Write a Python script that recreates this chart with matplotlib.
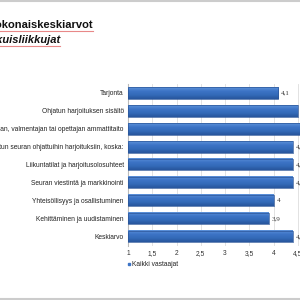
import numpy as np
import matplotlib
matplotlib.use("Agg")
import matplotlib.pyplot as plt
from matplotlib.lines import Line2D
from matplotlib.colors import LinearSegmentedColormap

categories = [
    "Tarjonta",
    "Ohjatun harjoituksen sisältö",
    "Ohjaajan, valmentajan tai opettajan ammattitaito",
    "Osallistun seuran ohjattuihin harjoituksiin, koska:",
    "Liikuntatilat ja harjoitusolosuhteet",
    "Seuran viestintä ja markkinointi",
    "Yhteisöllisyys ja osallistuminen",
    "Kehittäminen ja uudistaminen",
    "Keskiarvo",
]
values = [4.1, 4.5, 4.6, 4.4, 4.4, 4.4, 4.0, 3.9, 4.4]
ticks = [1, 1.5, 2, 2.5, 3, 3.5, 4, 4.5, 5]
tick_labels = ["1", "1,5", "2", "2,5", "3", "3,5", "4", "4,5", "5"]
title1 = "Kokonaiskeskiarvot"
title2 = "Aikuisliikkujat"
legend_label = "Kaikki vastaajat"

sans = ["Liberation Sans", "DejaVu Sans"]
serif = ["Liberation Serif", "DejaVu Serif"]

fig = plt.figure(figsize=(3, 3), dpi=100)
W = H = 300.0
ax = fig.add_axes([128 / W, 54.5 / H, 194 / W, 161.5 / H])

n = len(categories)
ypos = np.arange(n)
bar_h = 0.64
xmin = 1.0

cmap = LinearSegmentedColormap.from_list(
    "bar", ["#5d92da", "#3d74c6", "#336ab8", "#27559c"])
grad = np.linspace(0, 1, 64).reshape(-1, 1)

for y, v in zip(ypos, values):
    ax.imshow(grad, cmap=cmap, aspect="auto", origin="upper",
              extent=[xmin, v, y + bar_h / 2, y - bar_h / 2], zorder=3)
    ax.barh(y, v - xmin, left=xmin, height=bar_h, facecolor="none",
            edgecolor="#2c5699", linewidth=0.5, zorder=4)
    ax.text(v + 0.06, y, f"{v:.1f}".replace(".", ",").replace(",0", ""),
            ha="left", va="center", fontsize=5, family=serif,
            color="#333333", zorder=5)

ax.set_xlim(1, 5)
ax.set_ylim(n - 0.5, -0.5)
ax.set_xticks(ticks)
ax.set_xticklabels(tick_labels, fontsize=4.8, family=sans, color="#333333")
ax.set_yticks(ypos)
ax.set_yticklabels(categories, fontsize=4.8, family=sans, color="#222222")
ax.tick_params(axis="both", length=0, pad=3)
ax.grid(axis="x", color="#dddddd", linewidth=0.6, zorder=0)
for s in ["top", "right", "bottom"]:
    ax.spines[s].set_visible(False)
ax.spines["left"].set_color("#bbbbbb")
ax.spines["left"].set_linewidth(0.8)
ax.set_axisbelow(True)

# Titles
fig.text(93 / W, 1 - 25 / H, title1, ha="right", va="center",
         fontsize=8, fontweight="bold", family=sans, color="#111111")
fig.text(60 / W, 1 - 40 / H, title2, ha="right", va="center",
         fontsize=8, fontweight="bold", style="italic", family=sans,
         color="#111111")
fig.add_artist(Line2D([0, 93 / W], [1 - 31 / H] * 2, color="#e88888",
                      linewidth=0.8))
fig.add_artist(Line2D([0, 60 / W], [1 - 46 / H] * 2, color="#e88888",
                      linewidth=0.8))

# Legend
fig.add_artist(Line2D([129 / W], [1 - 264 / H], marker="s", markersize=2,
                      color="#3d74c6", linestyle="none"))
fig.text(131.5 / W, 1 - 264 / H, legend_label, ha="left", va="center",
         fontsize=4.8, family=sans, color="#222222")

# Screenshot frame lines
fig.add_artist(Line2D([0, 1], [1 - 0.5 / H] * 2, color="#cccccc", linewidth=1.5))
fig.add_artist(Line2D([0, 1], [1.5 / H] * 2, color="#cccccc", linewidth=1.5))

fig.savefig("out.png", dpi=100)
